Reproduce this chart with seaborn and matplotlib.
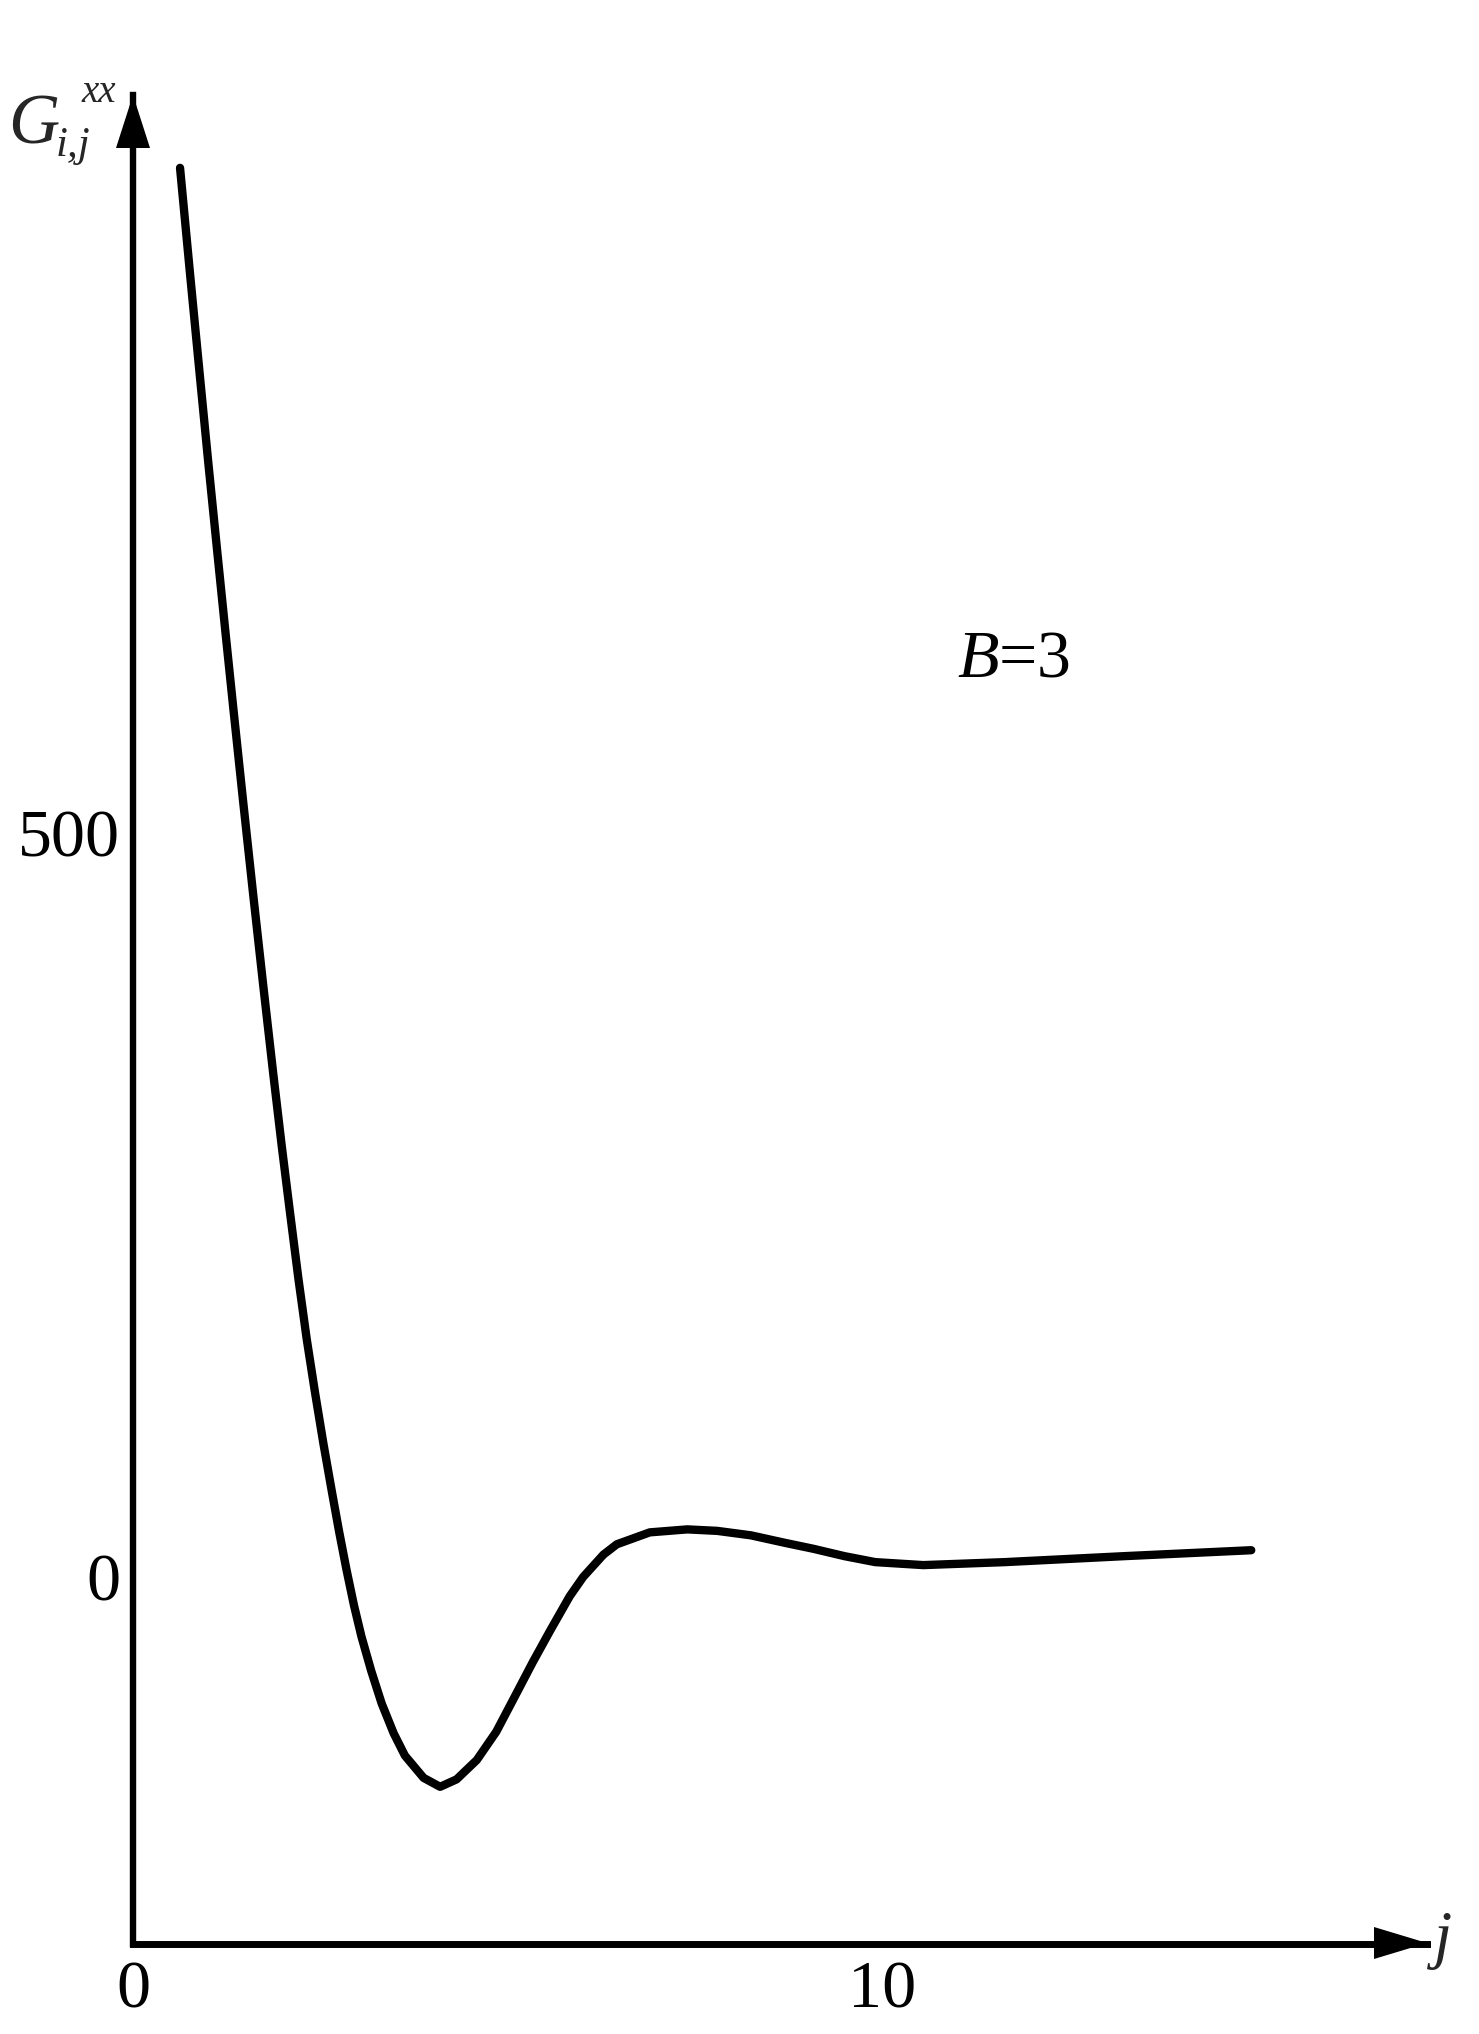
import matplotlib
matplotlib.use("Agg")
import matplotlib.pyplot as plt
from matplotlib.patches import Polygon
import seaborn as sns
import pandas as pd

# ---- data ----
j_values = [0.628, 0.761, 0.895, 1.005, 1.117, 1.228, 1.339, 1.473, 1.606, 1.740,
            1.873, 1.985, 2.096, 2.207, 2.319, 2.43, 2.541, 2.653, 2.75, 2.85,
            2.95, 3.05, 3.18, 3.32, 3.48, 3.63, 3.88, 4.10, 4.32, 4.59,
            4.85, 5.08, 5.34, 5.57, 5.83, 6.01, 6.28, 6.46, 6.90, 7.40,
            7.80, 8.25, 8.70, 9.08, 9.50, 9.91, 10.55, 11.64, 13.23, 14.93]
g_values = [947, 876, 806, 749, 693, 638, 584, 520, 458, 397,
            338, 290, 245, 201, 160, 124, 90, 58, 31, 5,
            -19, -40, -63, -85, -105, -120, -135, -141, -136, -123,
            -104, -82, -57, -36, -13, 0, 15, 22, 30, 32,
            31, 28, 23, 19, 14, 10, 8, 10, 14, 18]
x_ticks = [0, 10]
y_ticks = [0, 500]
x_tick_labels = ["0", "10"]
y_tick_labels = ["0", "500"]
annotation = "$B$=3"

df = pd.DataFrame({"j": j_values, "G": g_values})

W, H = 1479, 2034
DPI = 100

sns.set_style("white")
plt.rcParams["font.family"] = ["Liberation Serif", "DejaVu Serif"]
plt.rcParams["mathtext.fontset"] = "custom"
plt.rcParams["mathtext.it"] = "Liberation Serif:italic"
plt.rcParams["mathtext.rm"] = "Liberation Serif"

fig = plt.figure(figsize=(W / DPI, H / DPI), dpi=DPI)
fig.patch.set_facecolor("white")


def px(x, y):
    return (x / W, 1 - y / H)


# axes: x=0 at px 133, right end at 1427; y bottom at 1944, top at 95
left, right = 133, 1427
bottom, top = 1944, 95
ax = fig.add_axes([left / W, 1 - bottom / H, (right - left) / W, (bottom - top) / H])
ax.set_facecolor("white")

sns.lineplot(data=df, x="j", y="G", ax=ax, color="black", linewidth=6.0,
             estimator=None, sort=False)
for ln in ax.get_lines():
    ln.set_solid_capstyle("round")
    ln.set_solid_joinstyle("round")

ax.set_xlim(0, (right - left) / 74.9)
ax.set_ylim((1577 - bottom) / 1.488, (1577 - top) / 1.488)

for s in ["top", "right"]:
    ax.spines[s].set_visible(False)
ax.spines["left"].set_color("black")
ax.spines["left"].set_linewidth(4.6)
ax.spines["bottom"].set_color("black")
ax.spines["bottom"].set_linewidth(5.0)

ax.set_xticks(x_ticks)
ax.set_xticklabels(x_tick_labels)
ax.set_yticks(y_ticks)
ax.set_yticklabels(y_tick_labels)
ax.tick_params(axis="both", direction="in", length=16, width=3.0, color="black",
               labelsize=49, labelcolor="black")
ax.tick_params(axis="x", pad=12)
ax.tick_params(axis="y", pad=9)
ax.set_xlabel("")
ax.set_ylabel("")
ax.grid(False)

# annotation B=3
ax.text(11.0, 605, annotation, fontsize=49, ha="left", va="baseline", color="black")

# axis arrows
fig.patches.append(Polygon([px(133, 95), px(116, 148), px(150, 148)], closed=True,
                           transform=fig.transFigure, facecolor="black",
                           edgecolor="black", linewidth=0))
fig.patches.append(Polygon([px(1427, 1943), px(1374, 1927), px(1374, 1959)], closed=True,
                           transform=fig.transFigure, facecolor="black",
                           edgecolor="black", linewidth=0))

# axis labels
fig.text(*px(8, 143), "G", fontsize=51, fontstyle="italic", ha="left", va="baseline")
fig.text(*px(56, 156), "i,j", fontsize=31, fontstyle="italic", ha="left", va="baseline")
fig.text(*px(81, 102), "xx", fontsize=28, fontstyle="italic", ha="left", va="baseline")
fig.text(*px(1434, 1956), "j", fontsize=47, fontstyle="italic", ha="left", va="baseline")

fig.savefig("out.png", dpi=DPI, facecolor="white")
